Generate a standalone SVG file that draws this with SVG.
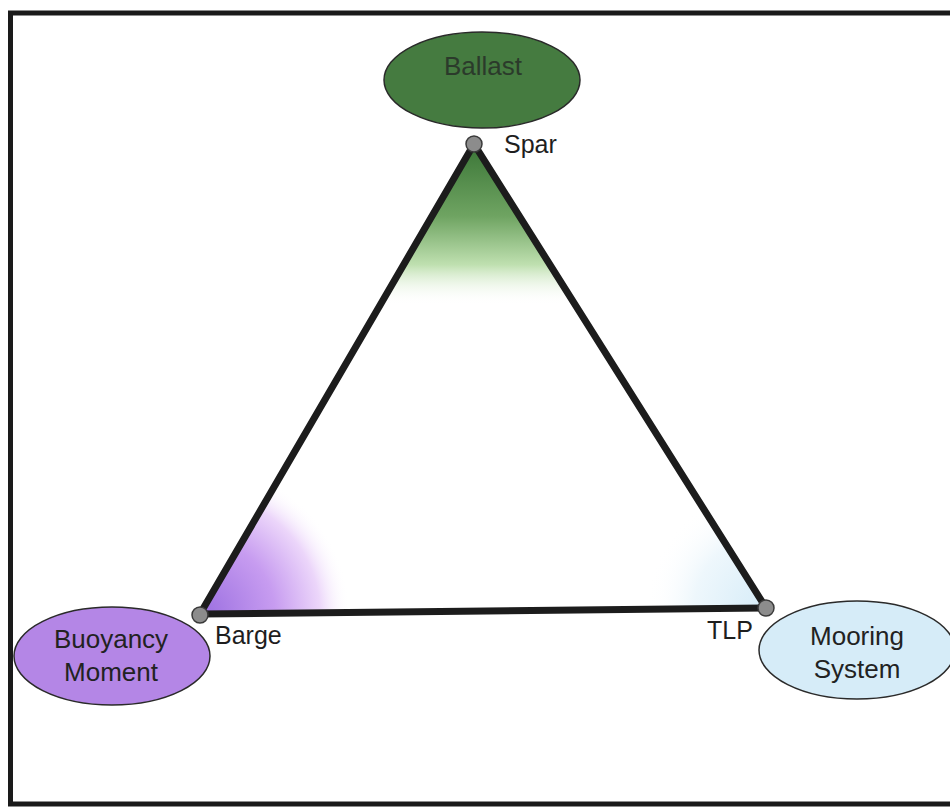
<svg xmlns="http://www.w3.org/2000/svg" width="950" height="809" viewBox="0 0 950 809">
<style>
.lbl{font-family:"Liberation Sans",Arial,sans-serif;font-size:25px;fill:#1e1e1e}
.nl{font-family:"Liberation Sans",Arial,sans-serif;font-size:26px;fill:#222;text-anchor:middle}
.edge{stroke:#1c1c1c;stroke-width:7;stroke-linecap:round;fill:none}
.vtx{fill:#8c8c8c;stroke:#3a3a3a;stroke-width:1.5}
.ell{stroke:#2a2a2a;stroke-width:1.5}
</style>
<defs>
<clipPath id="tri"><polygon points="474,144 200,614 766,608"/></clipPath>
<linearGradient id="gGreen" gradientUnits="userSpaceOnUse" x1="0" y1="144" x2="0" y2="305">
<stop offset="0" stop-color="#3a7536"/>
<stop offset="0.45" stop-color="#6fa462"/>
<stop offset="0.75" stop-color="#bfe0b0"/>
<stop offset="1" stop-color="#ffffff" stop-opacity="0"/>
</linearGradient>
<radialGradient id="gPurple" gradientUnits="userSpaceOnUse" cx="200" cy="614" r="150">
<stop offset="0" stop-color="#9a6ee0"/>
<stop offset="0.5" stop-color="#c79cf0"/>
<stop offset="0.8" stop-color="#ecd6fa"/>
<stop offset="1" stop-color="#ffffff" stop-opacity="0"/>
</radialGradient>
<radialGradient id="gBlue" gradientUnits="userSpaceOnUse" cx="766" cy="608" r="120">
<stop offset="0" stop-color="#d6ecf8"/>
<stop offset="0.6" stop-color="#eef7fc"/>
<stop offset="1" stop-color="#ffffff" stop-opacity="0"/>
</radialGradient>
</defs>
<rect x="0" y="0" width="950" height="809" fill="#ffffff"/>
<rect x="10.5" y="13" width="960" height="791" fill="none" stroke="#1a1a1a" stroke-width="5"/>
<g id="triangle-fill" clip-path="url(#tri)">
<rect x="180" y="140" width="600" height="480" fill="url(#gGreen)"/>
<rect x="180" y="140" width="600" height="480" fill="url(#gBlue)"/>
<rect x="180" y="140" width="600" height="480" fill="url(#gPurple)"/>
</g>
<g id="connectors">
<line class="edge" x1="474" y1="144" x2="200" y2="614"/>
<line class="edge" x1="474" y1="144" x2="766" y2="608"/>
<line class="edge" x1="200" y1="614" x2="766" y2="608"/>
</g>
<g id="spar">
<circle class="vtx" cx="474" cy="144" r="8"/>
<text class="lbl" x="504" y="153">Spar</text>
</g>
<g id="barge">
<circle class="vtx" cx="200" cy="615" r="8"/>
<text class="lbl" x="215" y="644">Barge</text>
</g>
<g id="tlp">
<circle class="vtx" cx="766" cy="608" r="8"/>
<text class="lbl" x="707" y="639">TLP</text>
</g>
<g id="ballast">
<ellipse class="ell" cx="482" cy="80" rx="98" ry="48" fill="#457b40"/>
<text class="nl" x="483" y="75" style="fill:#2b3a2b">Ballast</text>
</g>
<g id="buoyancy-moment">
<ellipse class="ell" cx="112" cy="656" rx="98" ry="49" fill="#b486e6"/>
<text class="nl" x="111" y="648">Buoyancy</text>
<text class="nl" x="111" y="681">Moment</text>
</g>
<g id="mooring-system">
<ellipse class="ell" cx="857" cy="650" rx="98" ry="49" fill="#d6ecf8"/>
<text class="nl" x="857" y="645">Mooring</text>
<text class="nl" x="857" y="678">System</text>
</g>
</svg>
